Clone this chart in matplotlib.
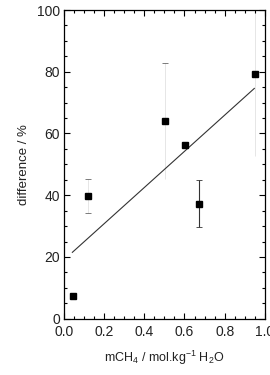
import matplotlib
matplotlib.use("Agg")
import matplotlib.pyplot as plt
from matplotlib.ticker import MultipleLocator

plt.rcParams['font.family'] = ['Liberation Sans', 'DejaVu Sans']
plt.rcParams['mathtext.fontset'] = 'custom'
plt.rcParams['mathtext.rm'] = 'Liberation Sans'
plt.rcParams['mathtext.it'] = 'Liberation Sans:italic'

# measured points
m_ch4 = [0.045, 0.122, 0.504, 0.603, 0.67, 0.948]
diff = [7.4, 39.8, 63.9, 56.2, 37.3, 79.3]
# error bars (only some visible)
err_faint_x = [0.122, 0.504, 0.948]
err_faint_y = [39.8, 63.9, 79.3]
err_faint = [5.6, 18.8, 26.7]
err_dark_x = [0.67]
err_dark_y = [37.3]
err_dark = [7.7]
# linear fit
fit_x = [0.043, 0.947]
fit_y = [21.5, 74.6]

fig = plt.figure(figsize=(2.7, 3.75), dpi=100)
ax = fig.add_axes([63.7 / 270, 1 - 318.7 / 375, 201.3 / 270, 308.7 / 375])

ax.errorbar(err_faint_x, err_faint_y, yerr=err_faint, fmt='none', ecolor='#e2e2e2',
            elinewidth=0.6, capsize=0, zorder=1)
# caps on the faint bars show as short dashes
ax.plot([err_faint_x[0]] * 2, [err_faint_y[0] - err_faint[0], err_faint_y[0] + err_faint[0]],
        ls='none', marker='_', ms=4, mew=0.6, color='#666666', zorder=2)
ax.plot([err_faint_x[1]], [err_faint_y[1] + err_faint[1]],
        ls='none', marker='_', ms=4, mew=0.6, color='#666666', zorder=2)
ax.errorbar(err_dark_x, err_dark_y, yerr=err_dark, fmt='none', ecolor='#333333',
            elinewidth=0.8, capsize=2, capthick=0.6, zorder=2)

ax.plot(fit_x, fit_y, color='#333333', lw=0.8, zorder=2)
ax.plot(m_ch4, diff, ls='none', marker='s', ms=3.8, color='black', zorder=3)

ax.set_xlim(0, 1.0)
ax.set_ylim(0, 100)
ax.xaxis.set_major_locator(MultipleLocator(0.2))
ax.xaxis.set_minor_locator(MultipleLocator(0.05))
ax.yaxis.set_major_locator(MultipleLocator(20))
ax.yaxis.set_minor_locator(MultipleLocator(5))
ax.xaxis.set_major_formatter(plt.FuncFormatter(lambda v, p: f"{v:.1f}"))
ax.tick_params(which='both', direction='in', top=True, right=True, labelsize=10,
               width=0.8, pad=2.5, labelcolor='#222222')
ax.tick_params(axis='x', which='major', pad=4.5)
ax.tick_params(which='major', length=4)
ax.tick_params(which='minor', length=2)
for s in ax.spines.values():
    s.set_linewidth(0.9)

ax.set_xlabel(r'mCH$_4$ / mol.kg$^{-1}$ H$_2$O', fontsize=9, labelpad=7, color='#222222')
ax.set_ylabel('difference / %', fontsize=9.5, labelpad=5, color='#222222')

fig.savefig('out.png', dpi=100)
